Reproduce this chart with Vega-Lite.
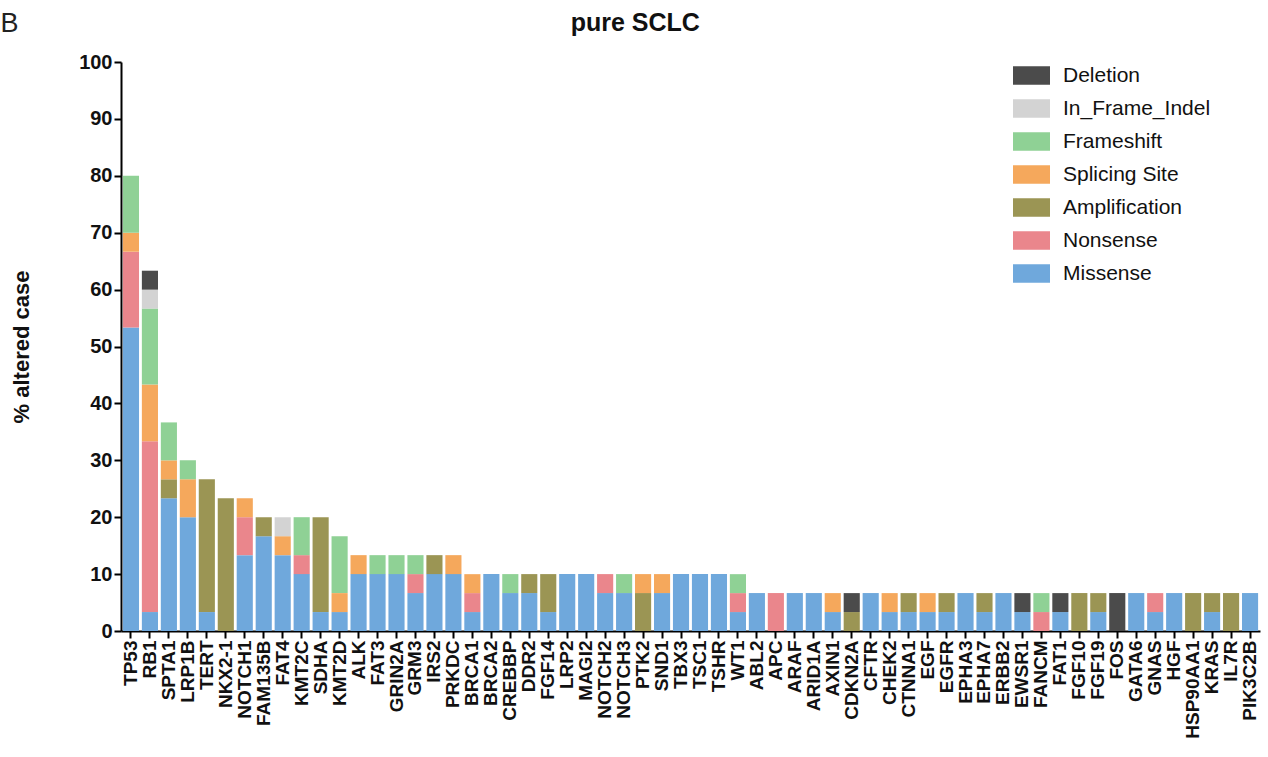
{
  "$schema": "https://vega.github.io/schema/vega-lite/v6.json",
  "padding": {"left": 0, "top": 10, "right": 5, "bottom": 5},
  "background": "white",
  "title": {"text": "B", "orient": "left", "angle": 0, "anchor": "end", "frame": "bounds", "baseline": "top", "align": "left", "fontSize": 27, "fontWeight": "normal", "font": "Liberation Sans", "color": "#222", "offset": -8},
  "config": {
    "view": {"stroke": null},
    "font": "Liberation Sans"
  },
  "vconcat": [
    {
      "title": {"text": "pure SCLC", "anchor": "middle", "frame": "bounds", "fontSize": 25, "fontWeight": "bold", "font": "Liberation Sans", "color": "#111", "offset": 16},
      "width": 1139,
      "height": 569,
      "data": {
        "values": [
          {"gene": "TP53", "type": "Missense", "pct": 53.33},
          {"gene": "TP53", "type": "Nonsense", "pct": 13.33},
          {"gene": "TP53", "type": "Splicing Site", "pct": 3.33},
          {"gene": "TP53", "type": "Frameshift", "pct": 10},
          {"gene": "RB1", "type": "Missense", "pct": 3.33},
          {"gene": "RB1", "type": "Nonsense", "pct": 30},
          {"gene": "RB1", "type": "Splicing Site", "pct": 10},
          {"gene": "RB1", "type": "Frameshift", "pct": 13.33},
          {"gene": "RB1", "type": "In_Frame_Indel", "pct": 3.33},
          {"gene": "RB1", "type": "Deletion", "pct": 3.33},
          {"gene": "SPTA1", "type": "Missense", "pct": 23.33},
          {"gene": "SPTA1", "type": "Amplification", "pct": 3.33},
          {"gene": "SPTA1", "type": "Splicing Site", "pct": 3.33},
          {"gene": "SPTA1", "type": "Frameshift", "pct": 6.67},
          {"gene": "LRP1B", "type": "Missense", "pct": 20},
          {"gene": "LRP1B", "type": "Splicing Site", "pct": 6.67},
          {"gene": "LRP1B", "type": "Frameshift", "pct": 3.33},
          {"gene": "TERT", "type": "Missense", "pct": 3.33},
          {"gene": "TERT", "type": "Amplification", "pct": 23.33},
          {"gene": "NKX2-1", "type": "Amplification", "pct": 23.33},
          {"gene": "NOTCH1", "type": "Missense", "pct": 13.33},
          {"gene": "NOTCH1", "type": "Nonsense", "pct": 6.67},
          {"gene": "NOTCH1", "type": "Splicing Site", "pct": 3.33},
          {"gene": "FAM135B", "type": "Missense", "pct": 16.67},
          {"gene": "FAM135B", "type": "Amplification", "pct": 3.33},
          {"gene": "FAT4", "type": "Missense", "pct": 13.33},
          {"gene": "FAT4", "type": "Splicing Site", "pct": 3.33},
          {"gene": "FAT4", "type": "In_Frame_Indel", "pct": 3.33},
          {"gene": "KMT2C", "type": "Missense", "pct": 10},
          {"gene": "KMT2C", "type": "Nonsense", "pct": 3.33},
          {"gene": "KMT2C", "type": "Frameshift", "pct": 6.67},
          {"gene": "SDHA", "type": "Missense", "pct": 3.33},
          {"gene": "SDHA", "type": "Amplification", "pct": 16.67},
          {"gene": "KMT2D", "type": "Missense", "pct": 3.33},
          {"gene": "KMT2D", "type": "Splicing Site", "pct": 3.33},
          {"gene": "KMT2D", "type": "Frameshift", "pct": 10},
          {"gene": "ALK", "type": "Missense", "pct": 10},
          {"gene": "ALK", "type": "Splicing Site", "pct": 3.33},
          {"gene": "FAT3", "type": "Missense", "pct": 10},
          {"gene": "FAT3", "type": "Frameshift", "pct": 3.33},
          {"gene": "GRIN2A", "type": "Missense", "pct": 10},
          {"gene": "GRIN2A", "type": "Frameshift", "pct": 3.33},
          {"gene": "GRM3", "type": "Missense", "pct": 6.67},
          {"gene": "GRM3", "type": "Nonsense", "pct": 3.33},
          {"gene": "GRM3", "type": "Frameshift", "pct": 3.33},
          {"gene": "IRS2", "type": "Missense", "pct": 10},
          {"gene": "IRS2", "type": "Amplification", "pct": 3.33},
          {"gene": "PRKDC", "type": "Missense", "pct": 10},
          {"gene": "PRKDC", "type": "Splicing Site", "pct": 3.33},
          {"gene": "BRCA1", "type": "Missense", "pct": 3.33},
          {"gene": "BRCA1", "type": "Nonsense", "pct": 3.33},
          {"gene": "BRCA1", "type": "Splicing Site", "pct": 3.33},
          {"gene": "BRCA2", "type": "Missense", "pct": 10},
          {"gene": "CREBBP", "type": "Missense", "pct": 6.67},
          {"gene": "CREBBP", "type": "Frameshift", "pct": 3.33},
          {"gene": "DDR2", "type": "Missense", "pct": 6.67},
          {"gene": "DDR2", "type": "Amplification", "pct": 3.33},
          {"gene": "FGF14", "type": "Missense", "pct": 3.33},
          {"gene": "FGF14", "type": "Amplification", "pct": 6.67},
          {"gene": "LRP2", "type": "Missense", "pct": 10},
          {"gene": "MAGI2", "type": "Missense", "pct": 10},
          {"gene": "NOTCH2", "type": "Missense", "pct": 6.67},
          {"gene": "NOTCH2", "type": "Nonsense", "pct": 3.33},
          {"gene": "NOTCH3", "type": "Missense", "pct": 6.67},
          {"gene": "NOTCH3", "type": "Frameshift", "pct": 3.33},
          {"gene": "PTK2", "type": "Amplification", "pct": 6.67},
          {"gene": "PTK2", "type": "Splicing Site", "pct": 3.33},
          {"gene": "SND1", "type": "Missense", "pct": 6.67},
          {"gene": "SND1", "type": "Splicing Site", "pct": 3.33},
          {"gene": "TBX3", "type": "Missense", "pct": 10},
          {"gene": "TSC1", "type": "Missense", "pct": 10},
          {"gene": "TSHR", "type": "Missense", "pct": 10},
          {"gene": "WT1", "type": "Missense", "pct": 3.33},
          {"gene": "WT1", "type": "Nonsense", "pct": 3.33},
          {"gene": "WT1", "type": "Frameshift", "pct": 3.33},
          {"gene": "ABL2", "type": "Missense", "pct": 6.67},
          {"gene": "APC", "type": "Nonsense", "pct": 6.67},
          {"gene": "ARAF", "type": "Missense", "pct": 6.67},
          {"gene": "ARID1A", "type": "Missense", "pct": 6.67},
          {"gene": "AXIN1", "type": "Missense", "pct": 3.33},
          {"gene": "AXIN1", "type": "Splicing Site", "pct": 3.33},
          {"gene": "CDKN2A", "type": "Amplification", "pct": 3.33},
          {"gene": "CDKN2A", "type": "Deletion", "pct": 3.33},
          {"gene": "CFTR", "type": "Missense", "pct": 6.67},
          {"gene": "CHEK2", "type": "Missense", "pct": 3.33},
          {"gene": "CHEK2", "type": "Splicing Site", "pct": 3.33},
          {"gene": "CTNNA1", "type": "Missense", "pct": 3.33},
          {"gene": "CTNNA1", "type": "Amplification", "pct": 3.33},
          {"gene": "EGF", "type": "Missense", "pct": 3.33},
          {"gene": "EGF", "type": "Splicing Site", "pct": 3.33},
          {"gene": "EGFR", "type": "Missense", "pct": 3.33},
          {"gene": "EGFR", "type": "Amplification", "pct": 3.33},
          {"gene": "EPHA3", "type": "Missense", "pct": 6.67},
          {"gene": "EPHA7", "type": "Missense", "pct": 3.33},
          {"gene": "EPHA7", "type": "Amplification", "pct": 3.33},
          {"gene": "ERBB2", "type": "Missense", "pct": 6.67},
          {"gene": "EWSR1", "type": "Missense", "pct": 3.33},
          {"gene": "EWSR1", "type": "Deletion", "pct": 3.33},
          {"gene": "FANCM", "type": "Nonsense", "pct": 3.33},
          {"gene": "FANCM", "type": "Frameshift", "pct": 3.33},
          {"gene": "FAT1", "type": "Missense", "pct": 3.33},
          {"gene": "FAT1", "type": "Deletion", "pct": 3.33},
          {"gene": "FGF10", "type": "Amplification", "pct": 6.67},
          {"gene": "FGF19", "type": "Missense", "pct": 3.33},
          {"gene": "FGF19", "type": "Amplification", "pct": 3.33},
          {"gene": "FOS", "type": "Deletion", "pct": 6.67},
          {"gene": "GATA6", "type": "Missense", "pct": 6.67},
          {"gene": "GNAS", "type": "Missense", "pct": 3.33},
          {"gene": "GNAS", "type": "Nonsense", "pct": 3.33},
          {"gene": "HGF", "type": "Missense", "pct": 6.67},
          {"gene": "HSP90AA1", "type": "Amplification", "pct": 6.67},
          {"gene": "KRAS", "type": "Missense", "pct": 3.33},
          {"gene": "KRAS", "type": "Amplification", "pct": 3.33},
          {"gene": "IL7R", "type": "Amplification", "pct": 6.67},
          {"gene": "PIK3C2B", "type": "Missense", "pct": 6.67}
        ]
      },
      "transform": [
        {"calculate": "indexof(['Missense','Nonsense','Amplification','Splicing Site','Frameshift','In_Frame_Indel','Deletion'], datum.type)", "as": "stackOrder"}
      ],
      "mark": {"type": "bar"},
      "encoding": {
        "x": {
          "field": "gene", "type": "nominal", "sort": null,
          "scale": {"paddingInner": 0.15, "paddingOuter": 0.1},
          "axis": {
            "title": null, "labelAngle": -90, "labelFontSize": 19, "labelFontWeight": "bold", "labelColor": "#111",
            "labelOverlap": false, "labelPadding": 2,
            "domainColor": "#000", "domainWidth": 2, "tickColor": "#000", "tickWidth": 2, "tickSize": 7
          }
        },
        "y": {
          "field": "pct", "type": "quantitative", "stack": "zero",
          "scale": {"domain": [0, 100], "nice": false},
          "axis": {
            "title": "% altered case", "titleFontSize": 22, "titleFontWeight": "bold", "titleColor": "#111", "titlePadding": 45,
            "values": [0, 10, 20, 30, 40, 50, 60, 70, 80, 90, 100],
            "labelFontSize": 20, "labelFontWeight": "bold", "labelColor": "#111", "labelPadding": 2,
            "grid": false, "domainColor": "#000", "domainWidth": 2, "tickColor": "#000", "tickWidth": 2, "tickSize": 7
          }
        },
        "color": {
          "field": "type", "type": "nominal",
          "scale": {
            "domain": ["Deletion", "In_Frame_Indel", "Frameshift", "Splicing Site", "Amplification", "Nonsense", "Missense"],
            "range": ["#4b4b4b", "#d3d3d3", "#8fd195", "#f5a85c", "#9b9554", "#ea868c", "#6fa8dc"]
          },
          "legend": {
            "title": null, "orient": "none", "legendX": 892, "legendY": -5,
            "symbolType": "M-1,-0.5H1V0.5H-1Z", "symbolSize": 1369, "symbolStrokeWidth": 0, "symbolOpacity": 1,
            "labelFontSize": 21, "labelColor": "#111", "labelOffset": 13, "rowPadding": 4
          }
        },
        "order": {"field": "stackOrder", "type": "quantitative", "sort": "ascending"}
      }
    }
  ]
}
